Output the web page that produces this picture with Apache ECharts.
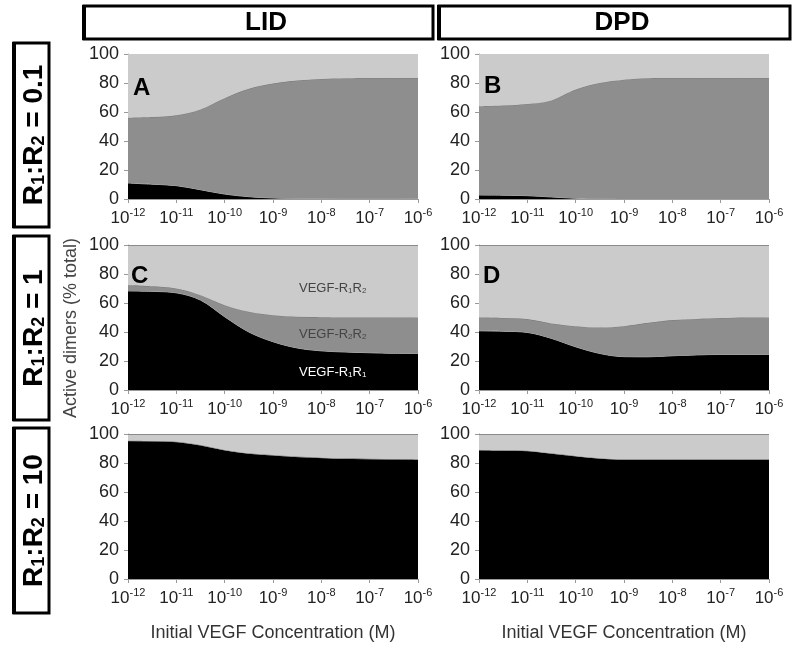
<!DOCTYPE html>
<html><head><meta charset="utf-8">
<script src="https://cdn.jsdelivr.net/npm/echarts@6/dist/echarts.min.js"></script>
<style>html,body{margin:0;padding:0;background:#fff}#c{width:800px;height:652px}</style>
</head><body><div id="c"></div>
<script>
// x positions: log10 of initial VEGF concentration (M), evenly spaced half-decades
const logConc = [-12, -11.5, -11, -10.5, -10, -9.5, -9, -8.5, -8, -7.5, -7, -6.5, -6];
const yTicks = [0, 20, 40, 60, 80, 100];
const columns = ['LID', 'DPD'];
const rows = ['0.1', '1', '10'];
const panelLetters = ['A', 'B', 'C', 'D', '', ''];

// Panel A: LID, R1:R2 = 0.1
const A_R1R1 = [11, 10.2, 9.2, 6.4, 3.4, 1.6, 0.7, 0.4, 0.3, 0.2, 0.2, 0.2, 0.2];
const A_R2R2 = [45, 46.3, 48.5, 55.4, 66.1, 74.4, 78.9, 81.3, 82.5, 83.1, 83.3, 83.3, 83.3];
const A_R1R2 = [44, 43.5, 42.3, 38.2, 30.5, 24, 20.4, 18.3, 17.2, 16.7, 16.5, 16.5, 16.5];
// Panel B: DPD, R1:R2 = 0.1
const B_R1R1 = [2.7, 2.6, 2.3, 1.4, 0.5, 0.1, 0, 0, 0, 0, 0, 0, 0];
const B_R2R2 = [61.3, 61.9, 63.2, 66.6, 75, 79.9, 82.3, 83.3, 83.5, 83.5, 83.5, 83.5, 83.5];
const B_R1R2 = [36, 35.5, 34.5, 32, 24.5, 20, 17.7, 16.7, 16.5, 16.5, 16.5, 16.5, 16.5];
// Panel C: LID, R1:R2 = 1
const C_R1R1 = [68.3, 68, 67, 62, 50.5, 40, 33.3, 29, 27, 26.2, 25.7, 25.3, 25.2];
const C_R2R2 = [3.9, 3.5, 3, 3.4, 8, 14, 18.3, 21.5, 23.2, 23.8, 24.3, 24.7, 24.8];
const C_R1R2 = [27.8, 28.5, 30, 34.6, 41.5, 46, 48.4, 49.5, 49.8, 50, 50, 50, 50];
// Panel D: DPD, R1:R2 = 1
const D_R1R1 = [40.8, 40.5, 39.7, 35.6, 29.8, 25.2, 23, 22.9, 23.6, 24.2, 24.5, 24.5, 24.5];
const D_R2R2 = [9.2, 9.2, 9.2, 10.3, 14.2, 17.9, 21, 23.4, 24.6, 24.8, 25.1, 25.5, 25.5];
const D_R1R2 = [50, 50.3, 51.1, 54.1, 56, 56.9, 56, 53.7, 51.8, 51, 50.4, 50, 50];
// Panel E: LID, R1:R2 = 10
const E_R1R1 = [95.4, 95.2, 94.7, 92.4, 89, 86.7, 85.5, 84.4, 83.7, 83.2, 82.9, 82.7, 82.6];
const E_R2R2 = [0, 0, 0, 0, 0, 0, 0, 0, 0, 0, 0, 0, 0];
const E_R1R2 = [4.6, 4.8, 5.3, 7.6, 11, 13.3, 14.5, 15.6, 16.3, 16.8, 17.1, 17.3, 17.4];
// Panel F: DPD, R1:R2 = 10
const F_R1R1 = [89, 88.8, 88.5, 86.7, 84.9, 83.3, 82.6, 82.6, 82.6, 82.6, 82.6, 82.6, 82.6];
const F_R2R2 = [0, 0, 0, 0, 0, 0, 0, 0, 0, 0, 0, 0, 0];
const F_R1R2 = [11, 11.2, 11.5, 13.3, 15.1, 16.7, 17.4, 17.4, 17.4, 17.4, 17.4, 17.4, 17.4];

const panels = [
  [A_R1R1, A_R2R2, A_R1R2], [B_R1R1, B_R2R2, B_R1R2],
  [C_R1R1, C_R2R2, C_R1R2], [D_R1R1, D_R2R2, D_R1R2],
  [E_R1R1, E_R2R2, E_R1R2], [F_R1R1, F_R2R2, F_R1R2]
];
const seriesNames = ['VEGF-R1R1', 'VEGF-R2R2', 'VEGF-R1R2'];
const fills = ['#000000', '#8e8e8e', '#cbcbcb'];
const edges = ['#b0b0b0', '#7a7a7a', '#cbcbcb'];

const FONT = '"Liberation Sans", Arial, sans-serif';
const colLeft = [128, 479];
const rowTop = [54, 245, 434];
const plotW = 290, plotH = 145;
const isDecade = (idx, val) => Number.isInteger(Number(val));

const grids = [], xAxes = [], yAxes = [], series = [];
panels.forEach((p, i) => {
  const r = Math.floor(i / 2), c = i % 2;
  grids.push({ left: colLeft[c], top: rowTop[r], width: plotW, height: plotH });
  xAxes.push({
    type: 'category', gridIndex: i, boundaryGap: false,
    data: logConc.map(String),
    axisLine: { show: true, onZero: false, lineStyle: { color: '#9a9a9a', width: 1 } },
    axisTick: { show: true, length: 4, interval: isDecade, lineStyle: { color: '#9a9a9a' } },
    splitLine: { show: false },
    axisLabel: {
      margin: 8, interval: isDecade,
      formatter: v => '{b|10}{s|' + v + '}',
      rich: {
        b: { fontFamily: FONT, fontSize: 17, color: '#222', lineHeight: 20, verticalAlign: 'bottom' },
        s: { fontFamily: FONT, fontSize: 11, color: '#222', lineHeight: 20, verticalAlign: 'top' }
      }
    }
  });
  yAxes.push({
    type: 'value', gridIndex: i, min: yTicks[0], max: yTicks[yTicks.length - 1], interval: 20,
    axisLine: { show: true, lineStyle: { color: '#9a9a9a', width: 1 } },
    axisTick: { show: true, length: 4, lineStyle: { color: '#9a9a9a' } },
    splitLine: { show: false },
    axisLabel: { margin: 9, fontFamily: FONT, fontSize: 18, color: '#222' }
  });
  p.forEach((vals, k) => {
    series.push({
      name: seriesNames[k], type: 'line', xAxisIndex: i, yAxisIndex: i,
      stack: 'p' + i, smooth: 0.35, symbol: 'none',
      data: vals,
      lineStyle: { color: edges[k], width: k === 2 ? 0 : 1 },
      areaStyle: { color: fills[k], opacity: 1 },
      z: 2 + k
    });
  });
});

const graphic = [];
// Top border line for rows 2 and 3 (drawn at the plot's 100% edge)
[2, 3, 4, 5].forEach(i => {
  const r = Math.floor(i / 2), c = i % 2;
  graphic.push({ type: 'line', z: 50,
    shape: { x1: colLeft[c], y1: rowTop[r] + 0.5, x2: colLeft[c] + plotW, y2: rowTop[r] + 0.5 },
    style: { stroke: '#8a8a8a', lineWidth: 1 } });
});
// Column header boxes
const headers = [
  { x: 84, w: 349, cx: 266, t: columns[0] },
  { x: 439, w: 351, cx: 622, t: columns[1] }
];
headers.forEach(h => {
  graphic.push({ type: 'rect', shape: { x: h.x, y: 6, width: h.w, height: 33 },
    style: { fill: '#fff', stroke: '#000', lineWidth: 3 } });
  graphic.push({ type: 'rect', shape: { x: h.x - 2, y: 5, width: 4, height: 35 }, style: { fill: '#000' } });
  graphic.push({ type: 'text', x: h.cx, y: 23,
    style: { text: h.t, font: 'bold 26px ' + FONT, fill: '#000', align: 'center', verticalAlign: 'middle' } });
});
// Row label boxes
const rowBoxes = [[43, 184], [236, 184], [428, 185]];
rowBoxes.forEach((b, r) => {
  graphic.push({ type: 'rect', shape: { x: 14, y: b[0], width: 35, height: b[1] },
    style: { fill: '#fff', stroke: '#000', lineWidth: 3 } });
  graphic.push({ type: 'rect', shape: { x: 12, y: b[0] - 1, width: 4, height: b[1] + 2 }, style: { fill: '#000' } });
  graphic.push({ type: 'text', x: 32, y: b[0] + b[1] / 2, rotation: Math.PI / 2,
    style: {
      text: '{b|R}{s|1}{b|:R}{s|2}{b| = ' + rows[r] + '}',
      align: 'center', verticalAlign: 'middle',
      rich: {
        b: { font: 'bold 28px ' + FONT, fill: '#000', lineHeight: 32, verticalAlign: 'bottom' },
        s: { font: 'bold 18px ' + FONT, fill: '#000', lineHeight: 32, verticalAlign: 'bottom' }
      }
    } });
});
// Panel letters
const letterPos = [[133, 88], [484, 86], [131, 276], [483, 276]];
letterPos.forEach((p, i) => {
  graphic.push({ type: 'text', x: p[0], y: p[1], z: 100,
    style: { text: panelLetters[i], font: 'bold 24px ' + FONT, fill: '#000', align: 'left', verticalAlign: 'middle' } });
});
// In-panel series labels (panel C)
const annot = [
  { y: 287, a: '1', b: '2', color: '#444' },
  { y: 333, a: '2', b: '2', color: '#444' },
  { y: 371, a: '1', b: '1', color: '#fff' }
];
annot.forEach(a => {
  graphic.push({ type: 'text', x: 299, y: a.y, z: 100,
    style: {
      text: '{b|VEGF-R}{s|' + a.a + '}{b|R}{s|' + a.b + '}',
      align: 'left', verticalAlign: 'middle',
      rich: {
        b: { font: '13px ' + FONT, fill: a.color, lineHeight: 15, verticalAlign: 'bottom' },
        s: { font: '8px ' + FONT, fill: a.color, lineHeight: 15, verticalAlign: 'bottom' }
      }
    } });
});
// Axis titles
graphic.push({ type: 'text', x: 71, y: 328, rotation: Math.PI / 2,
  style: { text: 'Active dimers (% total)', font: '18px ' + FONT, fill: '#444', align: 'center', verticalAlign: 'middle' } });
graphic.push({ type: 'text', x: 273, y: 633,
  style: { text: 'Initial VEGF Concentration (M)', font: '18px ' + FONT, fill: '#333', align: 'center', verticalAlign: 'middle' } });
graphic.push({ type: 'text', x: 624, y: 633,
  style: { text: 'Initial VEGF Concentration (M)', font: '18px ' + FONT, fill: '#333', align: 'center', verticalAlign: 'middle' } });

const chart = echarts.init(document.getElementById('c'), null, { renderer: 'canvas' });
chart.setOption({
  animation: false,
  backgroundColor: '#fff',
  grid: grids, xAxis: xAxes, yAxis: yAxes, series: series, graphic: graphic
});
</script></body></html>
